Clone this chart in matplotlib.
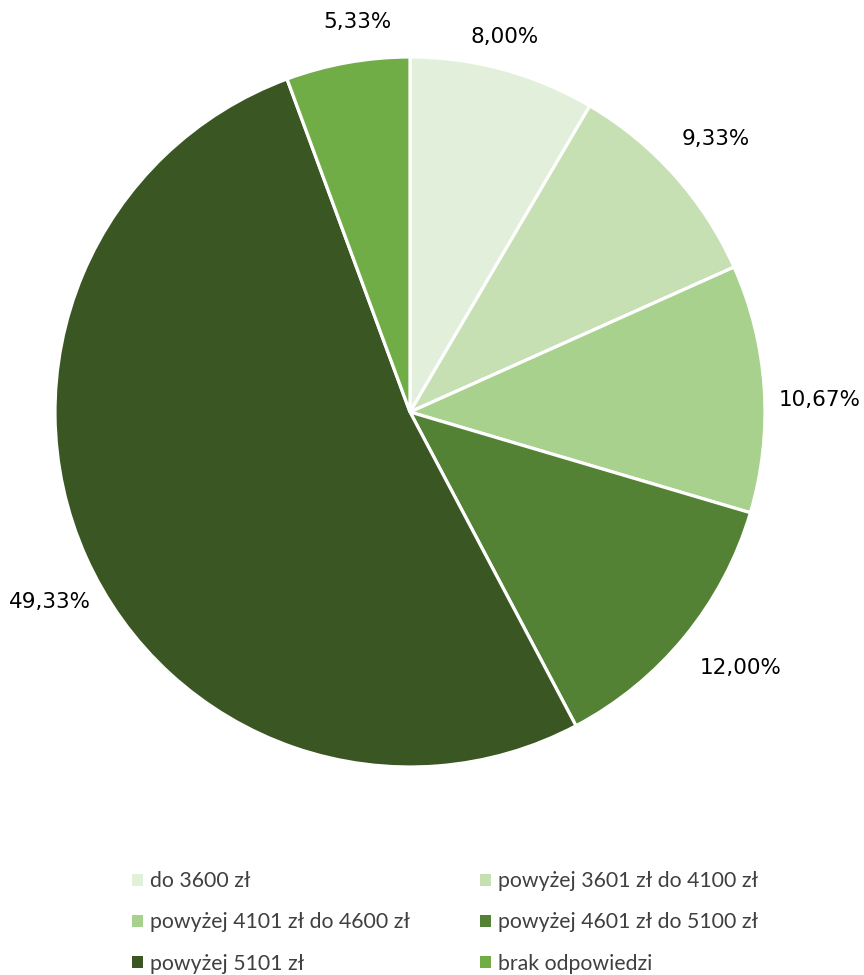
import numpy as np
import matplotlib.pyplot as plt
from matplotlib.patches import Patch

# data
categories = ['do 3600 zł', 'powyżej 3601 zł do 4100 zł', 'powyżej 4101 zł do 4600 zł',
              'powyżej 4601 zł do 5100 zł', 'powyżej 5101 zł', 'brak odpowiedzi']
values = [8.00, 9.33, 10.67, 12.00, 49.33, 5.33]
colors = ['#E2EFDA', '#C6E0B4', '#A9D18E', '#548235', '#3A5723', '#70AD47']

labels = [('%.2f%%' % v).replace('.', ',') for v in values]
# Excel "best fit" label placement: radius factor and angle nudge (deg)
label_dist = [1.09, 1.155, 1.155, 1.177, 1.147, 1.11]
label_nudge = [1.0, 0.0, -2.1, 1.5, 3.8, -2.4]

fig = plt.figure(figsize=(8.64, 9.75), dpi=100)
ax = fig.add_axes([55/864, 1 - 767/975, 710/864, 710/975])

wedges, texts = ax.pie(values, colors=colors, labels=labels, startangle=90,
                       counterclock=False, labeldistance=1.15,
                       wedgeprops=dict(edgecolor='white', linewidth=2.3),
                       textprops=dict(fontsize=15.5, color='black', family='DejaVu Sans'))
for w, t, d, n in zip(wedges, texts, label_dist, label_nudge):
    ang = np.deg2rad((w.theta1 + w.theta2) / 2 + n)
    t.set_position((d * np.cos(ang), d * np.sin(ang)))
    t.set_ha('center')
    t.set_va('center')
ax.set_xlim(-1, 1)
ax.set_ylim(-1, 1)
ax.set_aspect('equal')

# legend, two columns filled row by row
order = [0, 2, 4, 1, 3, 5]
handles = [Patch(facecolor=colors[i], edgecolor='none') for i in order]
fig.legend(handles, [categories[i] for i in order], loc='upper left',
           bbox_to_anchor=(113/864, 1 - 852/975),
           ncol=2, frameon=False,
           prop=dict(family='Lato', size=15.3),
           handlelength=0.5, handleheight=0.5, handletextpad=0.35,
           columnspacing=3.3, labelspacing=1.0, labelcolor='#404040')

fig.savefig('out.png', dpi=100)
